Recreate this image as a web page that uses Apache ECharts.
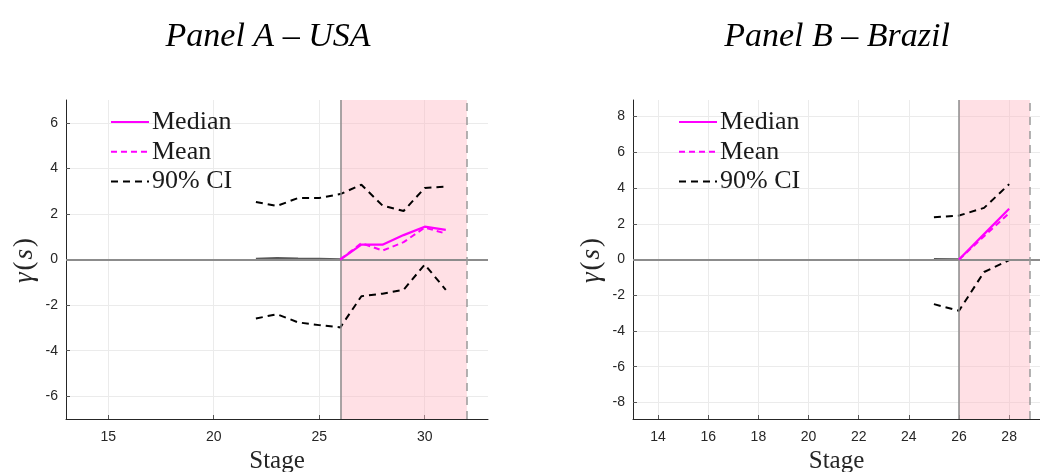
<!DOCTYPE html>
<html>
<head>
<meta charset="utf-8">
<script src="https://cdn.jsdelivr.net/npm/echarts@6/dist/echarts.min.js"></script>
<style>html,body{margin:0;padding:0;background:#fff}#c{width:1040px;height:472px}</style>
</head>
<body>
<div id="c"></div>
<script>
// ---- Panel A – USA ----
const usaStages      = [22, 23, 24, 25, 26, 27, 28, 29, 30, 31];
const usaUpper       = [2.52, 2.35, 2.7, 2.7, 2.87, 3.28, 2.37, 2.13, 3.14, 3.2];
const usaLower       = [-2.59, -2.4, -2.76, -2.88, -2.98, -1.61, -1.5, -1.33, -0.22, -1.33];
const usaPostStages  = [26, 27, 28, 29, 30, 31];
const usaMedian      = [0, 0.65, 0.65, 1.07, 1.44, 1.3];
const usaMean        = [0, 0.72, 0.39, 0.76, 1.4, 1.14];
const usaPreStages   = [22, 23, 24, 25, 26];
const usaPre         = [0.02, 0.05, 0.03, 0.02, 0];
const usaTreatStart  = 26;
const usaTreatEnd    = 32;

// ---- Panel B – Brazil ----
const braStages      = [25, 26, 27, 28];
const braUpper       = [2.37, 2.46, 2.89, 4.22];
const braLower       = [-2.5, -2.87, -0.7, -0.04];
const braPostStages  = [26, 27, 28];
const braMedian      = [0, 1.42, 2.84];
const braMean        = [0, 1.3, 2.6];
const braPreStages   = [25, 26];
const braPre         = [0.02, 0];
const braTreatStart  = 26;
const braTreatEnd    = 28.83;

// ---- tick labels ----
const usaXTicks = [15, 20, 25, 30];
const usaYTicks = [-6, -4, -2, 0, 2, 4, 6];
const braXTicks = [14, 16, 18, 20, 22, 24, 26, 28];
const braYTicks = [-8, -6, -4, -2, 0, 2, 4, 6, 8];

const titles = ['Panel A – USA', 'Panel B – Brazil'];
const seriesNames = ['Median', 'Mean', '90% CI'];

const pairs = (xs, ys) => xs.map((x, i) => [x, ys[i]]);

const MAG = '#ff00ff';
const SERIF = '"Liberation Serif", "DejaVu Serif", serif';
const SANS = '"Liberation Sans", Arial, sans-serif';

function xAxisDef(idx, min, max, ticks) {
  return {
    type: 'value', gridIndex: idx, min: min, max: max,
    name: 'Stage', nameLocation: 'middle', nameGap: 29,
    nameTextStyle: { fontFamily: SERIF, fontSize: 25, color: '#262626' },
    axisLine: { show: true, onZero: false, lineStyle: { color: '#262626', width: 1 } },
    axisTick: { show: true, inside: true, length: 4, customValues: ticks, lineStyle: { color: '#555' } },
    axisLabel: { customValues: ticks, margin: 11, fontFamily: SANS, fontSize: 14, color: '#262626' },
    splitLine: { show: true, lineStyle: { color: '#ebebeb', width: 1 } }
  };
}
function yAxisDef(idx, min, max, ticks) {
  return {
    type: 'value', gridIndex: idx, min: min, max: max,
    name: '{g|γ}{p|(}{g|s}{p|)}', nameLocation: 'middle', nameGap: 28, nameRotate: 90,
    nameTextStyle: {
      color: '#262626',
      rich: {
        g: { fontFamily: SERIF, fontSize: 27, fontStyle: 'italic', color: '#262626' },
        p: { fontFamily: SERIF, fontSize: 27, color: '#262626', padding: [0, 2, 0, 2] }
      }
    },
    axisLine: { show: true, onZero: false, lineStyle: { color: '#262626', width: 1 } },
    axisTick: { show: true, inside: true, length: 4, customValues: ticks, lineStyle: { color: '#555' } },
    axisLabel: { customValues: ticks, margin: 8, fontFamily: SANS, fontSize: 14, color: '#262626' },
    splitLine: { show: true, lineStyle: { color: '#ebebeb', width: 1 } }
  };
}

function panelSeries(idx, d) {
  return [
    {
      name: 'pre', type: 'line', xAxisIndex: idx, yAxisIndex: idx,
      data: pairs(d.preX, d.pre), symbol: 'none', silent: true,
      lineStyle: { color: '#5a5a5a', width: 2.5 }, z: 3,
      markArea: {
        silent: true,
        itemStyle: { color: 'rgba(255, 182, 193, 0.42)' },
        data: [[{ xAxis: d.start }, { xAxis: d.end }]]
      },
      markLine: {
        silent: true, symbol: 'none', label: { show: false },
        data: [
          { yAxis: 0, lineStyle: { color: '#8c8c8c', width: 2, type: 'solid' } },
          { xAxis: d.start, lineStyle: { color: '#8c8c8c', width: 1.5, type: 'solid' } },
          { xAxis: d.end, lineStyle: { color: '#9a9a9a', width: 1.5, type: [8, 6] } }
        ]
      }
    },
    {
      name: '90% CI', type: 'line', xAxisIndex: idx, yAxisIndex: idx,
      data: pairs(d.ciX, d.upper), symbol: 'none',
      lineStyle: { color: '#000', width: 2, type: [7, 5] }, itemStyle: { color: '#000' }, z: 4
    },
    {
      name: '90% CI', type: 'line', xAxisIndex: idx, yAxisIndex: idx,
      data: pairs(d.ciX, d.lower), symbol: 'none',
      lineStyle: { color: '#000', width: 2, type: [7, 5] }, itemStyle: { color: '#000' }, z: 4
    },
    {
      name: 'Mean', type: 'line', xAxisIndex: idx, yAxisIndex: idx,
      data: pairs(d.postX, d.mean), symbol: 'none',
      lineStyle: { color: MAG, width: 2, type: [6, 4] }, itemStyle: { color: MAG }, z: 5
    },
    {
      name: 'Median', type: 'line', xAxisIndex: idx, yAxisIndex: idx,
      data: pairs(d.postX, d.median), symbol: 'none',
      lineStyle: { color: MAG, width: 2.2, type: 'solid' }, itemStyle: { color: MAG }, z: 6
    }
  ];
}

function legendDef(left) {
  return {
    orient: 'vertical', left: left, top: 109, padding: 0,
    data: seriesNames,
    itemWidth: 38, itemHeight: 14, itemGap: 3.8,
    itemStyle: { opacity: 0, borderWidth: 0 },
    textStyle: { fontFamily: SERIF, fontSize: 26, lineHeight: 24, color: '#1a1a1a', padding: [0, 0, 0, -2] },
    selectedMode: false
  };
}

const chart = echarts.init(document.getElementById('c'), null, { renderer: 'canvas' });
chart.setOption({
  animation: false,
  backgroundColor: '#fff',
  title: [
    { text: titles[0], left: 263, top: 15, textAlign: 'center',
      textStyle: { fontFamily: SERIF, fontStyle: 'italic', fontWeight: 'normal', fontSize: 34, color: '#000' } },
    { text: titles[1], left: 832, top: 15, textAlign: 'center',
      textStyle: { fontFamily: SERIF, fontStyle: 'italic', fontWeight: 'normal', fontSize: 34, color: '#000' } }
  ],
  legend: [legendDef(110), legendDef(678)],
  grid: [
    { left: 66, right: 552, top: 100, bottom: 53, containLabel: false, outerBoundsMode: 'none' },
    { left: 633, right: 0, top: 100, bottom: 53, containLabel: false, outerBoundsMode: 'none' }
  ],
  xAxis: [xAxisDef(0, 13, 33, usaXTicks), xAxisDef(1, 13, 29.23, braXTicks)],
  yAxis: [yAxisDef(0, -7, 7, usaYTicks), yAxisDef(1, -8.93, 8.93, braYTicks)],
  series: [
    ...panelSeries(0, { preX: usaPreStages, pre: usaPre, ciX: usaStages, upper: usaUpper, lower: usaLower,
      postX: usaPostStages, median: usaMedian, mean: usaMean, start: usaTreatStart, end: usaTreatEnd }),
    ...panelSeries(1, { preX: braPreStages, pre: braPre, ciX: braStages, upper: braUpper, lower: braLower,
      postX: braPostStages, median: braMedian, mean: braMean, start: braTreatStart, end: braTreatEnd })
  ]
});
</script>
</body>
</html>
